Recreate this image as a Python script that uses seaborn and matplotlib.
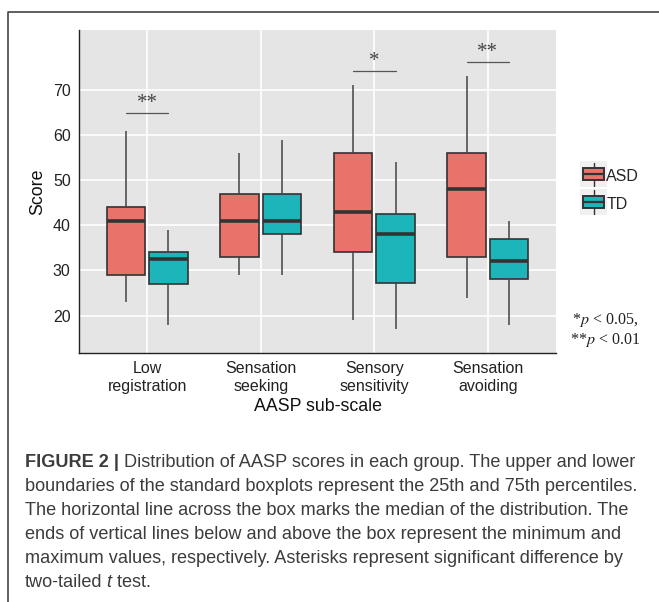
import numpy as np
import pandas as pd
import matplotlib
matplotlib.use('Agg')
import matplotlib.pyplot as plt
import seaborn as sns
from matplotlib.legend_handler import HandlerBase
from matplotlib.patches import Rectangle, Patch
from matplotlib.lines import Line2D

# sub-scales and groups
categories = ['Low\nregistration', 'Sensation\nseeking', 'Sensory\nsensitivity', 'Sensation\navoiding']
groups = ['ASD', 'TD']
colors = ['#E9736B', '#1CB5B9']

# five-number summaries (min, q1, median, q3, max)
asd_min = [23, 29, 19, 24]
asd_q1 = [29, 33, 34, 33]
asd_med = [41, 41, 43, 48]
asd_q3 = [44, 47, 56, 56]
asd_max = [61, 56, 71, 73]

td_min = [18, 29, 17, 18]
td_q1 = [27, 38, 27.2, 28.2]
td_med = [32.5, 41, 38, 32]
td_q3 = [34, 47, 42.5, 37]
td_max = [39, 59, 54, 41]

# significance marks
sig_idx = [0, 2, 3]
sig_y = [65, 74.3, 76.3]
sig_lab = ['**', '*', '**']

y_ticks = [20, 30, 40, 50, 60, 70]

# build long table: 5 points per box so the quartiles land on the read values
rows = []
summ = {'ASD': (asd_min, asd_q1, asd_med, asd_q3, asd_max),
        'TD': (td_min, td_q1, td_med, td_q3, td_max)}
for g in groups:
    for i, c in enumerate(categories):
        for arr in summ[g]:
            rows.append({'cat': c, 'group': g, 'score': arr[i]})
df = pd.DataFrame(rows)

sns.set_style('white')
plt.rcParams['font.family'] = ['Liberation Sans', 'DejaVu Sans']
plt.rcParams['mathtext.fontset'] = 'stix'

fig = plt.figure(figsize=(6.59, 6.02), dpi=100)
ax = fig.add_axes([0.1199, 0.4136, 0.7238, 0.5366])
ax.set_facecolor('#E5E5E5')

sns.boxplot(data=df, x='cat', y='score', hue='group', order=categories, hue_order=groups,
            palette=colors, saturation=1, width=0.75, gap=0.1, whis=(0, 100), showcaps=False,
            linewidth=1.2, linecolor='#333333', legend=False, ax=ax,
            medianprops={'linewidth': 2.6, 'color': '#333333'},
            whiskerprops={'linewidth': 1.1, 'color': '#444444'})

ax.set_xlim(-0.6, 3.6)
ax.set_ylim(11.7, 83.3)
ax.set_yticks(y_ticks)
ax.grid(True, color='white', linewidth=1.2)
ax.set_axisbelow(True)
for s in ['top', 'right']:
    ax.spines[s].set_visible(False)
for s in ['left', 'bottom']:
    ax.spines[s].set_color('#222222')
    ax.spines[s].set_linewidth(1.0)
ax.tick_params(axis='both', length=4, width=1, color='#333333', labelsize=11.5, labelcolor='#222222', pad=2)
ax.set_xlabel('AASP sub-scale', fontsize=12.8, color='#111111', labelpad=3)
ax.set_ylabel('Score', fontsize=12.8, color='#111111', labelpad=5)

# significance brackets
off = 0.75 / 4
for i, yv, lab in zip(sig_idx, sig_y, sig_lab):
    ax.plot([i - off, i + off], [yv, yv], color='#555555', lw=0.9)
    ax.text(i, yv + 2.0, lab, ha='center', va='center', fontsize=15,
            family='Liberation Serif', color='#444444')


class BoxHandler(HandlerBase):
    def create_artists(self, legend, orig_handle, xd, yd, w, h, fontsize, trans):
        fc = orig_handle.get_facecolor()
        bg = Rectangle((xd - 2, yd - 5), w + 4, h + 10, fc='#F0F0F0', ec='none', transform=trans)
        wl = Line2D([xd + w / 2, xd + w / 2], [yd - 4, yd + h + 4], color='#333333', lw=1, transform=trans)
        box = Rectangle((xd, yd), w, h, fc=fc, ec='#333333', lw=1.4, transform=trans)
        med = Line2D([xd, xd + w], [yd + h / 2, yd + h / 2], color='#333333', lw=1.6, transform=trans)
        return [bg, wl, box, med]


handles = [Patch(facecolor=c) for c in colors]
fig.legend(handles, groups, handler_map={Patch: BoxHandler()}, loc='center left',
           bbox_to_anchor=(0.885, 0.684), frameon=False, fontsize=11.5,
           handlelength=1.3, handleheight=0.8, handletextpad=0.15, labelspacing=0.8,
           borderpad=0, borderaxespad=0)

fig.text(0.918, 0.452, '*$p$ < 0.05,\n**$p$ < 0.01', ha='center', va='center',
         multialignment='center', fontsize=11.5, family='Liberation Serif', color='#222222',
         linespacing=1.1)

# outer frame (top and left)
fig.add_artist(Line2D([1, 8 / 659, 8 / 659], [1 - 12 / 602, 1 - 12 / 602, 0], color='#444444', lw=1.2))

# caption
fs = 13.1
cap_col = '#3c3c3c'
cap_kw = dict(fontsize=fs, color=cap_col, va='baseline')
x0 = 25 / 659
base = [467, 491, 515, 539, 563, 587]
yy = [1 - b / 602 for b in base]
t = fig.text(x0, yy[0], 'FIGURE 2 |', fontweight='bold', **cap_kw)
ax.annotate(' Distribution of AASP scores in each group. The upper and lower', xy=(1, 0), xycoords=t,
            ha='left', va='bottom', fontsize=fs, color=cap_col)
lines = ['boundaries of the standard boxplots represent the 25th and 75th percentiles.',
         'The horizontal line across the box marks the median of the distribution. The',
         'ends of vertical lines below and above the box represent the minimum and',
         'maximum values, respectively. Asterisks represent significant difference by']
for s, y in zip(lines, yy[1:5]):
    fig.text(x0, y, s, **cap_kw)
t1 = fig.text(x0, yy[5], 'two-tailed', **cap_kw)
t2 = ax.annotate(' t', xy=(1, 0), xycoords=t1, ha='left', va='bottom', fontsize=fs,
                 color=cap_col, style='italic')
ax.annotate(' test.', xy=(1, 0), xycoords=t2, ha='left', va='bottom', fontsize=fs, color=cap_col)

fig.savefig('out.png', dpi=100)
